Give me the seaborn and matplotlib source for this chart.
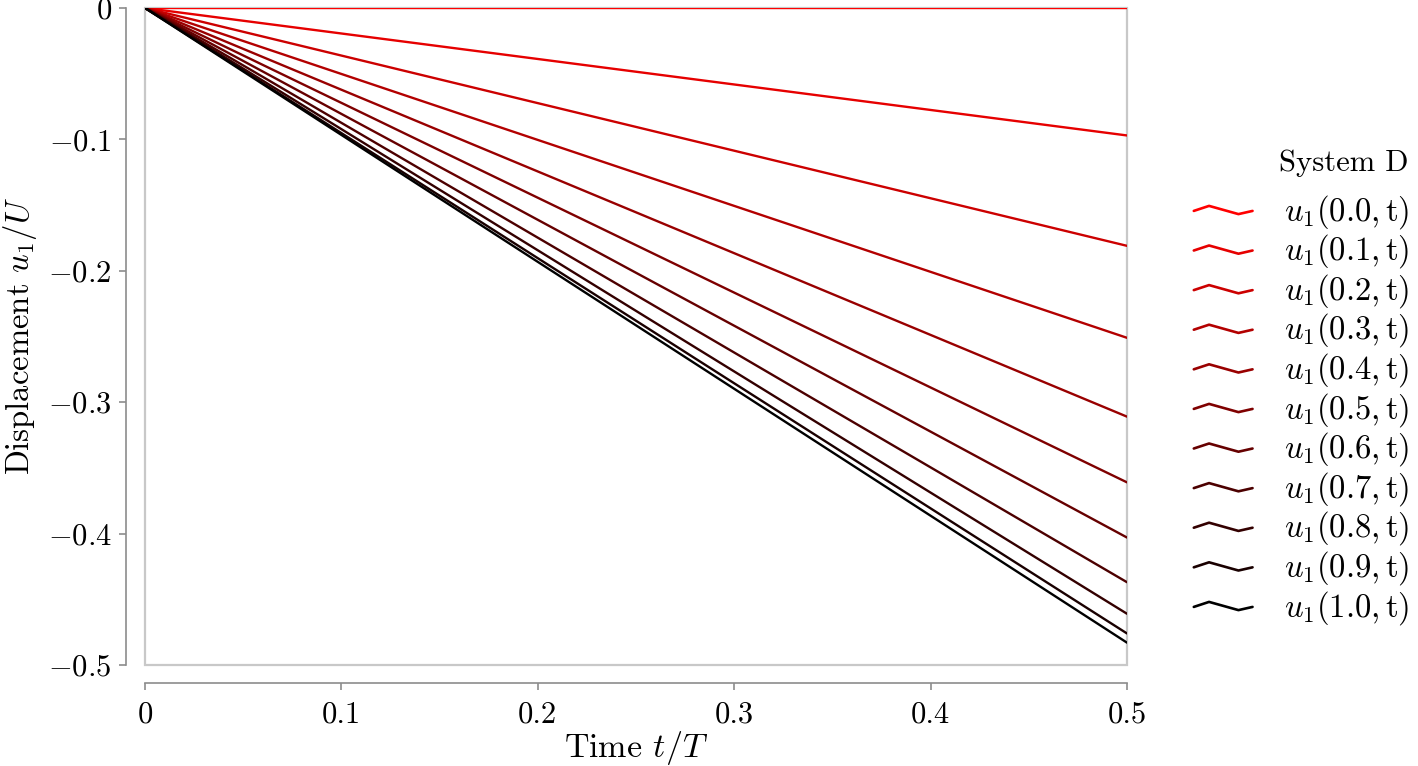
import matplotlib
matplotlib.use("Agg")
import matplotlib.pyplot as plt
import matplotlib.ticker as mticker
from matplotlib.lines import Line2D
from matplotlib.patches import Rectangle
from matplotlib.legend_handler import HandlerBase
import numpy as np
import pandas as pd
import seaborn as sns

# Data (displacement at t/T = 0 and t/T = 0.5)
positions = ['0.0', '0.1', '0.2', '0.3', '0.4', '0.5', '0.6', '0.7', '0.8', '0.9', '1.0']
time_points = [0.0, 0.5]
end_values = [0.0, -0.097, -0.181, -0.251, -0.311, -0.361, -0.403, -0.437, -0.461, -0.476, -0.483]
x_ticks = [0, 0.1, 0.2, 0.3, 0.4, 0.5]
x_tick_labels = ['0', '0.1', '0.2', '0.3', '0.4', '0.5']
y_ticks = [0, -0.1, -0.2, -0.3, -0.4, -0.5]
y_tick_labels = ['$0$', '$-0.1$', '$-0.2$', '$-0.3$', '$-0.4$', '$-0.5$']

sns.set_theme(style="white")
plt.rcParams['font.family'] = ['cmr10', 'DejaVu Serif']
plt.rcParams['mathtext.fontset'] = 'cm'
plt.rcParams['axes.formatter.use_mathtext'] = True
plt.rcParams['axes.unicode_minus'] = True
plt.rcParams['text.color'] = 'black'
plt.rcParams['axes.labelcolor'] = 'black'
plt.rcParams['xtick.labelcolor'] = 'black'
plt.rcParams['ytick.labelcolor'] = 'black'

labels = [rf'$u_1({p}, \mathrm{{t}})$' for p in positions]
rows = []
for lab, end in zip(labels, end_values):
    rows.append({'t': time_points[0], 'u': 0.0, 'series': lab})
    rows.append({'t': time_points[1], 'u': end, 'series': lab})
df = pd.DataFrame(rows)

palette = sns.blend_palette(['#ff0000', '#000000'], len(labels))

fig = plt.figure(figsize=(14.18, 7.66), dpi=100)
ax = fig.add_axes([145 / 1418, 1 - 665 / 766, (1127 - 145) / 1418, (665 - 8) / 766])

sns.lineplot(data=df, x='t', y='u', hue='series', hue_order=labels,
             palette=palette, linewidth=1.7, legend=False, ax=ax)

ax.set_xlim(0, 0.5)
ax.set_ylim(-0.5, 0)
ax.set_xticks(x_ticks)
ax.set_xticklabels(x_tick_labels)
ax.set_yticks(y_ticks)
ax.yaxis.set_major_formatter(mticker.FixedFormatter(y_tick_labels))

# offset spines
for side in ['top', 'right']:
    ax.spines[side].set_visible(False)
ax.spines['left'].set_position(('outward', 14))
ax.spines['bottom'].set_position(('outward', 13))
for side in ['left', 'bottom']:
    ax.spines[side].set_color('#8c8c8c')
    ax.spines[side].set_linewidth(1.2)
ax.tick_params(axis='both', which='major', direction='out', length=5, width=1.2,
               color='#8c8c8c', labelsize=22, pad=5,
               bottom=True, left=True)
ax.tick_params(axis='x', pad=8)

# light inner frame
ax.add_patch(Rectangle((0, 0), 1, 1, transform=ax.transAxes, fill=False,
                       edgecolor='#c8c8c8', linewidth=1.6, zorder=0, clip_on=False))

ax.set_xlabel('Time $t/T$', fontsize=24.5, labelpad=0)
ax.set_ylabel('Displacement $u_1/U$', fontsize=23.5, labelpad=6)


class ZigzagHandler(HandlerBase):
    def create_artists(self, legend, orig_handle, xdescent, ydescent,
                       width, height, fontsize, trans):
        xs = np.array([0.0, 0.26, 0.76, 1.0]) * width - xdescent
        ys = np.array([0.4, 0.62, 0.26, 0.4]) * height - ydescent
        line = Line2D(xs, ys, color=orig_handle.get_color(),
                      linewidth=orig_handle.get_linewidth())
        line.set_transform(trans)
        return [line]


handles = [Line2D([], [], color=c, linewidth=1.9) for c in palette]
leg = fig.legend(handles, labels, title='System D', loc='upper left',
                 bbox_to_anchor=(1184 / 1418, 1 - 140 / 766), frameon=False,
                 fontsize=23.5, title_fontsize=22, handlelength=1.8,
                 handletextpad=0.95, labelspacing=0.05, alignment='right',
                 borderaxespad=0, borderpad=0.3,
                 handler_map={Line2D: ZigzagHandler()})
# a little more room between the title and the entries
leg._legend_box.sep = 11

fig.savefig('out.png', dpi=100)
